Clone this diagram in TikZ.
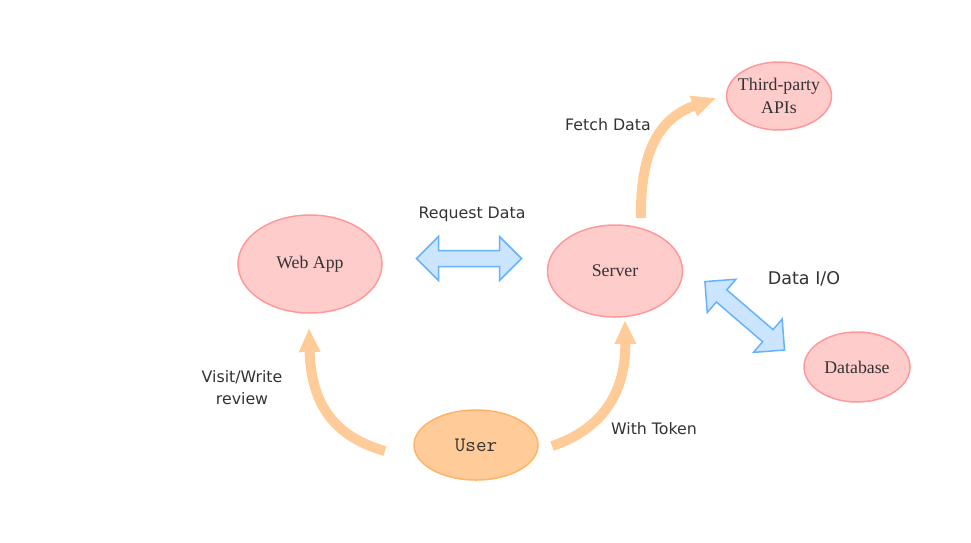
\documentclass[tikz,border=0pt]{standalone}
\usepackage{fontspec}
\setmainfont{Liberation Serif}
\setsansfont{DejaVu Sans}
\usetikzlibrary{arrows.meta,shapes.geometric}
\definecolor{pinkfill}{HTML}{FFCCCC}
\definecolor{pinkline}{HTML}{FF9999}
\definecolor{orfill}{HTML}{FFCC99}
\definecolor{orline}{HTML}{FFB366}
\definecolor{bluefill}{HTML}{CCE5FF}
\definecolor{blueline}{HTML}{66B2FF}
\definecolor{txt}{HTML}{333333}
\tikzset{
  ent/.style={ellipse, draw=pinkline, fill=pinkfill, line width=1.5pt, inner sep=0pt,
    text=txt, font=\fontsize{17.8}{23}\selectfont, align=center},
  usr/.style={ellipse, draw=orline, fill=orfill, line width=1.5pt, inner sep=0pt,
    text=txt, font=\ttfamily\fontsize{20.5}{22}\selectfont},
  lbl/.style={text=txt, font=\sffamily\fontsize{15.8}{22}\selectfont, align=center, inner sep=0pt},
  flow/.style={draw=orfill, line width=10pt, -{Triangle[length=24pt,width=20pt]}},
  blk/.style={draw=blueline, fill=bluefill, line width=1.5pt, line join=miter}
}
\begin{document}
\begin{tikzpicture}[x=1pt,y=-1pt]
\useasboundingbox (0,0) rectangle (971,542);
% nodes
\node[ent, minimum width=144pt, minimum height=98pt] (web) at (310,264) {Web App};
\node[ent, minimum width=135pt, minimum height=92pt] (server) at (615,271) {Server};
\node[ent, minimum width=105pt, minimum height=68pt, inner xsep=-4.5pt] (api) at (779,96) {Third-party\\APIs};
\node[ent, minimum width=106pt, minimum height=70pt] (db) at (857,367) {Database};
\node[usr, minimum width=124pt, minimum height=70pt] (user) at (476,445) {User};
% labels
\node[lbl] (lreq) at (472,214) {Request Data};
\node[lbl] (lfetch) at (608,125) {Fetch Data};
\node[lbl, font=\sffamily\fontsize{17.5}{22}\selectfont] (lio) at (804,279) {Data I/O};
\node[lbl] (lvisit) at (242,388) {Visit/Write\\review};
\node[lbl] (ltok) at (654,429) {With Token};
% free ends of connectors
\coordinate (u1) at (385,451);
\coordinate (w1) at (309,328);
\coordinate (u2) at (552,446);
\coordinate (s1) at (625,320);
\coordinate (s2) at (641,218);
\coordinate (a1) at (716,98);
% curved flows
\draw[flow] (u1) .. controls (335,437) and (311,405) .. (w1);
\draw[flow] (u2) .. controls (600,430) and (626,395) .. (s1);
\draw[flow] (s2) .. controls (640,150) and (660,118) .. (a1);
% block double arrows
\coordinate (reqc) at (469,258.5);
\coordinate (ioc) at (744.7,315.8);
\begin{scope}[shift={(reqc)}]
\draw[blk] (-52.5,0) -- (-30.5,-22) -- (-30.5,-8) -- (30.5,-8) -- (30.5,-22) -- (52.5,0)
  -- (30.5,22) -- (30.5,8) -- (-30.5,8) -- (-30.5,22) -- cycle;
\end{scope}
\begin{scope}[shift={(ioc)}, rotate=-40.7]
\draw[blk] (-52.5,0) -- (-30.5,-22) -- (-30.5,-8) -- (30.5,-8) -- (30.5,-22) -- (52.5,0)
  -- (30.5,22) -- (30.5,8) -- (-30.5,8) -- (-30.5,22) -- cycle;
\end{scope}
\end{tikzpicture}
\end{document}
